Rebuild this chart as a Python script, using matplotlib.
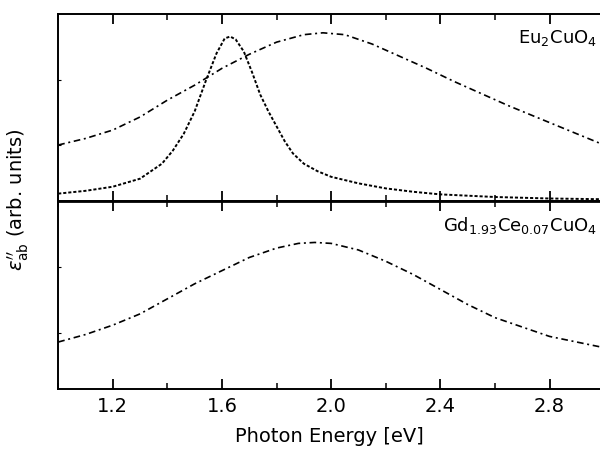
"""
Imaginary part of the dielectric function, two stacked panels.
"""
import numpy as np
import matplotlib
matplotlib.use("Agg")
import matplotlib.pyplot as plt
from matplotlib.ticker import MultipleLocator, NullFormatter

# --- data (y in arbitrary units, 0..1 per panel) ---
eu_dot_x = [1.00, 1.10, 1.20, 1.30, 1.38, 1.42, 1.46, 1.50, 1.54, 1.58,
            1.61, 1.63, 1.65, 1.68, 1.71, 1.74, 1.77, 1.80, 1.83, 1.86,
            1.90, 1.95, 2.00, 2.10, 2.20, 2.30, 2.40, 2.60, 2.80, 3.00]
eu_dot_y = [0.040, 0.055, 0.077, 0.120, 0.200, 0.270, 0.360, 0.480, 0.640, 0.790,
            0.870, 0.880, 0.865, 0.800, 0.690, 0.570, 0.480, 0.400, 0.320, 0.255,
            0.200, 0.160, 0.130, 0.095, 0.068, 0.050, 0.036, 0.022, 0.014, 0.010]

eu_dd_x = [1.00, 1.10, 1.20, 1.30, 1.40, 1.50, 1.60, 1.70, 1.80, 1.90, 1.97,
           2.05, 2.15, 2.25, 2.35, 2.45, 2.55, 2.65, 2.75, 2.85, 2.95, 3.00]
eu_dd_y = [0.300, 0.335, 0.380, 0.450, 0.540, 0.620, 0.710, 0.785, 0.850, 0.890, 0.900,
           0.890, 0.840, 0.775, 0.710, 0.640, 0.575, 0.510, 0.450, 0.390, 0.330, 0.300]

gd_dd_x = [1.00, 1.10, 1.20, 1.30, 1.40, 1.50, 1.60, 1.70, 1.80, 1.88, 1.94,
           2.00, 2.10, 2.20, 2.30, 2.40, 2.50, 2.60, 2.70, 2.80, 2.90, 3.00]
gd_dd_y = [0.250, 0.290, 0.340, 0.400, 0.480, 0.560, 0.630, 0.700, 0.750, 0.775, 0.780,
           0.775, 0.740, 0.680, 0.610, 0.530, 0.450, 0.380, 0.330, 0.280, 0.250, 0.220]

label_top = r"Eu$_2$CuO$_4$"
label_bot = r"Gd$_{1.93}$Ce$_{0.07}$CuO$_4$"

plt.rcParams['font.family'] = ['DejaVu Sans']
plt.rcParams['mathtext.fontset'] = 'dejavusans'

fig = plt.figure(figsize=(6.0, 4.55), dpi=100)
ax1 = fig.add_axes([0.097, 0.558, 0.903, 0.411])
ax2 = fig.add_axes([0.097, 0.145, 0.903, 0.413], sharex=ax1)

dashdot = (0, (4, 2.2, 1.2, 2.2))
dotted = (0, (1.6, 1.0))

ax1.plot(eu_dot_x, eu_dot_y, color='black', lw=1.4, linestyle=dotted)
ax1.plot(eu_dd_x, eu_dd_y, color='black', lw=1.2, linestyle=dashdot)
ax2.plot(gd_dd_x, gd_dd_y, color='black', lw=1.2, linestyle=dashdot)

ax1.text(0.995, 0.87, label_top, transform=ax1.transAxes, ha='right',
         va='center', fontsize=13)
ax2.text(0.995, 0.87, label_bot, transform=ax2.transAxes, ha='right',
         va='center', fontsize=13)

for ax in (ax1, ax2):
    ax.set_xlim(1.0, 2.985)
    ax.set_ylim(0, 1)
    ax.xaxis.set_major_locator(MultipleLocator(0.4))
    ax.xaxis.set_minor_locator(MultipleLocator(0.2))
    ax.set_yticks([0.3, 0.65])
    ax.yaxis.set_major_formatter(NullFormatter())
    ax.tick_params(axis='x', which='major', direction='in', top=True,
                   bottom=True, length=7, width=1.3)
    ax.tick_params(axis='x', which='minor', direction='in', top=True,
                   bottom=True, length=4, width=1.1)
    ax.tick_params(axis='y', which='major', direction='in', left=True,
                   right=False, length=2, width=0.8)
    ax.spines['right'].set_visible(False)
    for s in ('left', 'top', 'bottom'):
        ax.spines[s].set_linewidth(1.4)

ax1.spines['bottom'].set_linewidth(2.0)
ax2.spines['top'].set_linewidth(2.0)
ax1.tick_params(axis='x', labelbottom=False)
ax2.tick_params(axis='x', labelsize=14, pad=6)
ax2.set_xticks([1.2, 1.6, 2.0, 2.4, 2.8])
ax2.set_xticklabels(['1.2', '1.6', '2.0', '2.4', '2.8'])
ax2.set_xlabel('Photon Energy [eV]', fontsize=14, labelpad=8)

fig.text(0.03, 0.56, r"$\varepsilon^{\prime\prime}_{\mathrm{ab}}$ (arb. units)",
         rotation=90, ha='center', va='center', fontsize=14)

plt.savefig('out.png', dpi=100)
